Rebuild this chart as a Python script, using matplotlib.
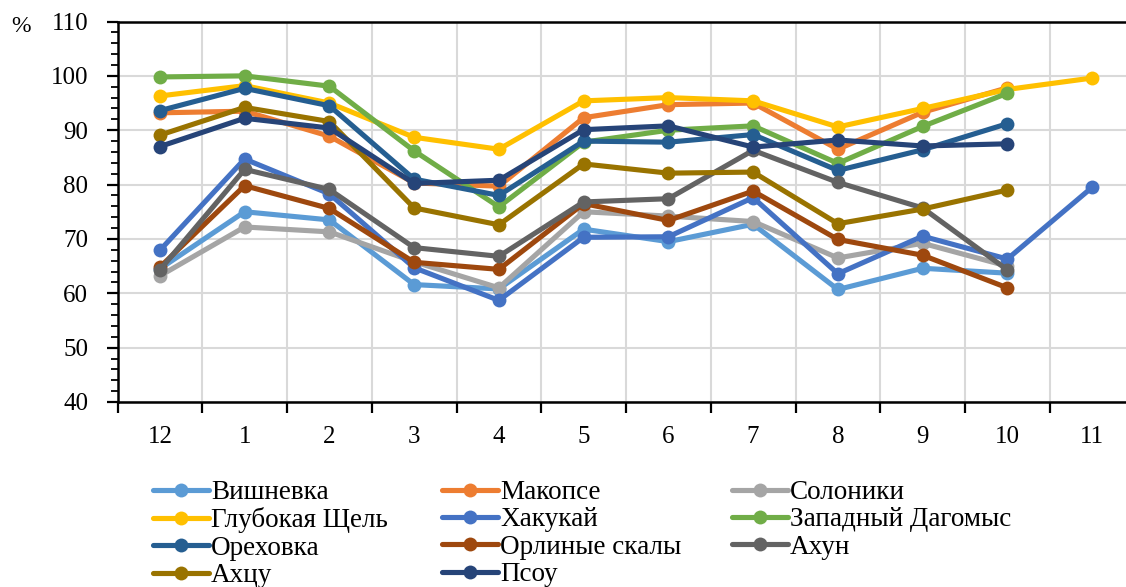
import numpy as np
import matplotlib
matplotlib.use("Agg")
import matplotlib.pyplot as plt
from matplotlib.ticker import FixedLocator, MultipleLocator, NullFormatter

plt.rcParams['font.family'] = ['Liberation Serif', 'DejaVu Serif']

months = ["12", "1", "2", "3", "4", "5", "6", "7", "8", "9", "10", "11"]
nan = np.nan

vishnevka = [64.5, 75.0, 73.5, 61.6, 60.8, 71.8, 69.5, 72.7, 60.7, 64.6, 63.7, nan]
makopse = [93.2, 93.5, 88.9, 80.3, 79.7, 92.3, 94.7, 95.0, 86.5, 93.3, 97.8, nan]
soloniki = [63.2, 72.2, 71.3, 65.8, 61.0, 75.0, 74.2, 73.2, 66.5, 69.2, 65.0, nan]
glubokaya = [96.3, 98.2, 95.0, 88.7, 86.5, 95.4, 96.0, 95.4, 90.6, 94.0, 97.5, 99.6]
khakukai = [67.9, 84.7, 78.3, 64.7, 58.7, 70.3, 70.4, 77.6, 63.6, 70.5, 66.3, 79.5]
dagomys = [99.8, 100.0, 98.1, 86.2, 75.9, 87.8, 90.0, 90.8, 83.9, 90.7, 96.8, nan]
orekhovka = [93.6, 97.7, 94.5, 81.0, 78.0, 88.0, 87.8, 89.2, 82.6, 86.4, 91.2, nan]
orlinye = [64.8, 79.8, 75.6, 65.7, 64.4, 76.5, 73.4, 78.8, 69.9, 67.0, 61.0, nan]
akhun = [64.3, 82.8, 79.1, 68.4, 66.8, 76.8, 77.4, 86.3, 80.4, 75.7, 64.3, nan]
akhtsu = [89.1, 94.2, 91.6, 75.7, 72.6, 83.8, 82.1, 82.3, 72.8, 75.5, 79.0, nan]
psou = [87.0, 92.2, 90.4, 80.2, 80.8, 90.1, 90.8, 86.9, 88.2, 87.1, 87.5, nan]

series = [
    ("Вишневка", vishnevka, "#5B9BD5"),
    ("Макопсе", makopse, "#ED7D31"),
    ("Солоники", soloniki, "#A5A5A5"),
    ("Глубокая Щель", glubokaya, "#FFC000"),
    ("Хакукай", khakukai, "#4472C4"),
    ("Западный Дагомыс", dagomys, "#70AD47"),
    ("Ореховка", orekhovka, "#255E91"),
    ("Орлиные скалы", orlinye, "#9E480E"),
    ("Ахун", akhun, "#636363"),
    ("Ахцу", akhtsu, "#997300"),
    ("Псоу", psou, "#264478"),
]

W, H = 1126, 587
fig = plt.figure(figsize=(W / 100, H / 100), dpi=100)
left_px, right_px, top_px, bottom_px = 117.5, 1134.5, 21.5, 402.0
ax = fig.add_axes([left_px / W, 1 - bottom_px / H,
                   (right_px - left_px) / W, (bottom_px - top_px) / H])

x = np.arange(len(months))
handles = {}
for name, vals, color in series:
    ln, = ax.plot(x, vals, color=color, lw=3.7, marker="o", ms=10,
                  markeredgewidth=0, label=name, solid_capstyle="round",
                  clip_on=False, zorder=3)
    handles[name] = ln

ax.set_xlim(-0.5, len(months) - 0.5)
ax.set_ylim(40, 110)

# y axis: majors every 10, minors every 2
ax.yaxis.set_major_locator(MultipleLocator(10))
ax.yaxis.set_minor_locator(MultipleLocator(2))
ax.tick_params(axis="y", which="major", direction="out", length=8, width=1.6,
               labelsize=18, pad=13)
ax.tick_params(axis="y", which="minor", direction="out", length=5, width=1.3)

# x axis: ticks on category boundaries, labels at category centres
ax.xaxis.set_major_locator(FixedLocator(np.arange(-0.5, len(months), 1.0)))
ax.xaxis.set_major_formatter(NullFormatter())
ax.xaxis.set_minor_locator(FixedLocator(x))
ax.set_xticks(x, months, minor=True)
ax.tick_params(axis="x", which="major", direction="out", length=8, width=1.6)
ax.tick_params(axis="x", which="minor", length=0, labelsize=18, pad=17)

ax.grid(True, which="major", color="#D9D9D9", lw=1.5, zorder=0)
ax.set_axisbelow(True)
for s in ("left", "bottom", "top"):
    ax.spines[s].set_color("black")
    ax.spines[s].set_linewidth(1.8)
ax.spines["right"].set_visible(False)

fig.text(21 / W, 1 - 27 / H, "%", fontsize=17, ha="center", va="center")

# legend laid out as three columns
columns = [
    (["Вишневка", "Глубокая Щель", "Ореховка", "Ахцу"], 153),
    (["Макопсе", "Хакукай", "Орлиные скалы", "Псоу"], 442),
    (["Солоники", "Западный Дагомыс", "Ахун"], 732),
]
for names, xpx in columns:
    fig.legend([handles[n] for n in names], names,
               loc="upper left", bbox_to_anchor=(xpx / W, 1 - 480 / H),
               frameon=False, fontsize=19.5, handlelength=2.05,
               handletextpad=0.1, labelspacing=0.09, borderpad=0,
               borderaxespad=0)

fig.savefig("out.png", dpi=100)
